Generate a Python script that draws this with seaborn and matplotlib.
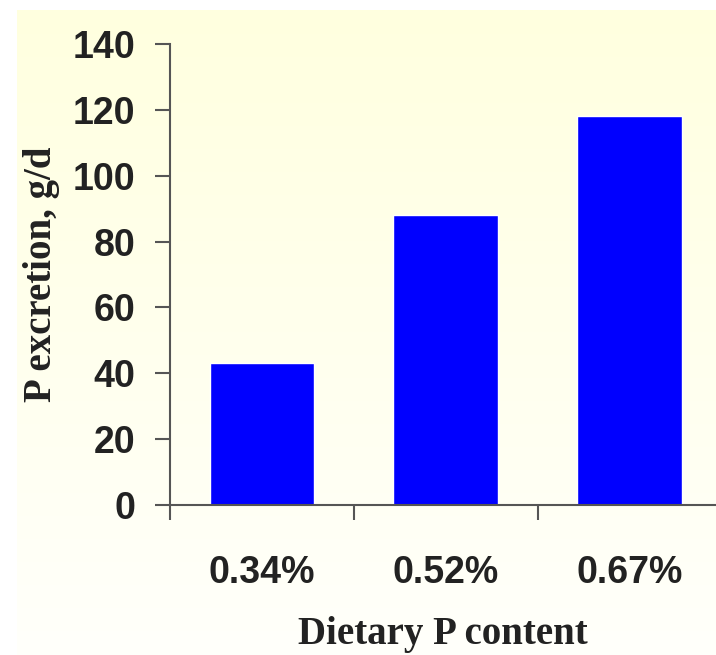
import numpy as np
import pandas as pd
import matplotlib
matplotlib.use("Agg")
import matplotlib.pyplot as plt
import matplotlib.colors as mcolors
import seaborn as sns
from matplotlib.ticker import FixedLocator

# Dados
dietary_p = ["0.34%", "0.52%", "0.67%"]
p_excretion = [43, 88, 118]

df = pd.DataFrame({"dietary_p": dietary_p, "p_excretion": p_excretion})

sns.set_style("white")
plt.rcParams["font.family"] = ["Liberation Sans", "DejaVu Sans"]

W, H = 716, 655
fig = plt.figure(figsize=(W / 100, H / 100), dpi=100)
fig.patch.set_facecolor("white")

# Fundo creme em degradê (mais amarelo em cima, quase branco embaixo)
bg = fig.add_axes([17 / W, 0, 1 - 17 / W, 1 - 10 / H])
cmap = mcolors.LinearSegmentedColormap.from_list("cream", ["#FFFFDF", "#FFFFFB"])
bg.imshow(np.linspace(0, 1, 256).reshape(-1, 1), aspect="auto", cmap=cmap,
          extent=[0, 1, 0, 1])
bg.axis("off")

left, right = 170 / W, 1.0
bottom, top = 150 / H, 1 - 44 / H
ax = fig.add_axes([left, bottom, right - left, top - bottom])
ax.patch.set_alpha(0)

sns.barplot(data=df, x="dietary_p", y="p_excretion", color="#0000FF",
            saturation=1, width=0.57, ax=ax)

ax.set_ylim(0, 140)
ax.set_xlim(-0.5, 2.47)
ax.set_yticks(np.arange(0, 141, 20))

# Marcas do eixo x entre as categorias, rótulos no centro
ax.xaxis.set_minor_locator(FixedLocator([-0.5, 0.5, 1.5]))
ax.tick_params(axis="x", which="major", bottom=True, length=0, pad=36,
               labelsize=27)
ax.tick_params(axis="x", which="minor", bottom=True, length=11, width=1.5,
               color="#555555", direction="out")
ax.tick_params(axis="y", which="major", left=True, length=11, width=1.5,
               color="#555555", direction="out", pad=14, labelsize=27)
for lab in ax.get_xticklabels() + ax.get_yticklabels():
    lab.set_fontweight("bold")
    lab.set_color("#222222")

for s in ["top", "right"]:
    ax.spines[s].set_visible(False)
for s in ["left", "bottom"]:
    ax.spines[s].set_color("#555555")
    ax.spines[s].set_linewidth(1.5)

ax.set_xlabel("Dietary P content", fontsize=28, fontweight="bold",
              family=["Liberation Serif"], color="#222222", labelpad=18)
ax.set_ylabel("P excretion, g/d", fontsize=28, fontweight="bold",
              family=["Liberation Serif"], color="#222222")
ax.yaxis.set_label_coords(-0.202, 0.5)

fig.savefig("out.png", dpi=100)
